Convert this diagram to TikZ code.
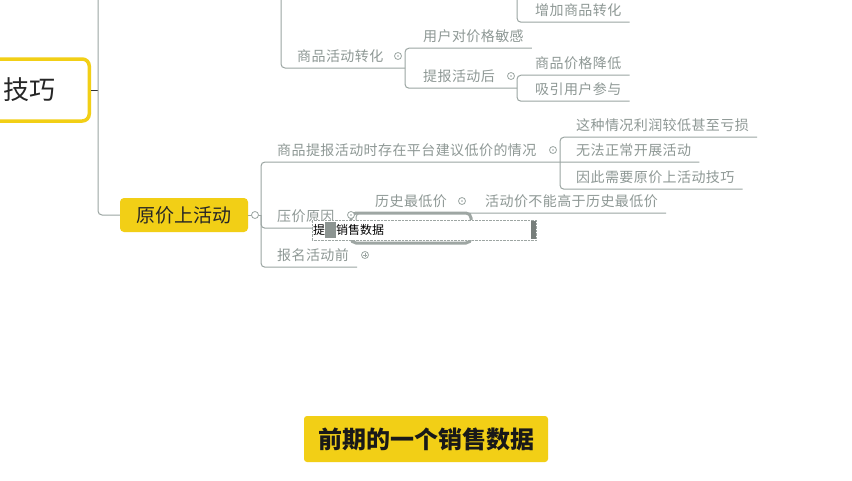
\documentclass[tikz,border=0pt]{standalone}
\usepackage{fontspec}
\setmainfont{Noto Sans CJK SC}
\usepackage{xcolor}
\usetikzlibrary{positioning}

\definecolor{mapline}{HTML}{9BA5A2}
\definecolor{maptext}{HTML}{8E9895}
\definecolor{topicyellow}{HTML}{F2CF16}
\definecolor{editgray}{HTML}{9EA6A3}
\definecolor{cursorgray}{HTML}{8C9491}

\tikzset{
  branch/.style={draw=mapline, line width=1pt, rounded corners=4pt},
  item/.style={anchor=west, inner xsep=8pt, inner ysep=0pt, minimum height=24pt, text=maptext, font=\fontsize{14}{14}\selectfont\addfontfeatures{LetterSpace=3}},
  fold/.style={circle, draw=mapline, fill=white, line width=0.8pt, inner sep=0pt, minimum size=7pt},
  foldopen/.style={fold, path picture={\fill[mapline] (path picture bounding box.center) circle (0.9pt);}},
  foldclosed/.style={fold, path picture={\draw[mapline, line width=0.6pt] ([xshift=-2.2pt]path picture bounding box.center) -- ([xshift=2.2pt]path picture bounding box.center) ([yshift=-2.2pt]path picture bounding box.center) -- ([yshift=2.2pt]path picture bounding box.center);}}
}

\begin{document}
\begin{tikzpicture}[x=1pt, y=-1pt]
        \useasboundingbox[fill=white] (0,0) rectangle (852,480);

        % main topics
        \node[draw=topicyellow, line width=3.5pt, fill=white, rounded corners=7pt, anchor=east, text width=80pt, align=right, inner xsep=34pt, minimum height=62pt, font=\fontsize{26}{26}\selectfont, text=black!85] (jiqiao) at (91,90) {技巧};
        \node[fill=topicyellow, rounded corners=4pt, minimum width=128pt, minimum height=34pt, font=\fontsize{19}{19}\selectfont, text=black!85] (yuanjia) at (184,215) {原价上活动};

        % subtopics
        \node[item] (zengjia) at (527,10) {增加商品转化};
        \node[item] (mingan) at (415,36) {用户对价格敏感};
        \node[item] (zhuanhua) at (289,56) {商品活动转化};
        \node[item] (tibao) at (415,76) {提报活动后};
        \node[item] (jiangdi) at (527,63) {商品价格降低};
        \node[item] (canyu) at (527,89) {吸引用户参与};
        \node[item] (qingkuang) at (269,150) {商品提报活动时存在平台建议低价的情况};
        \node[item] (kuisun) at (568,125) {这种情况利润较低甚至亏损};
        \node[item] (kaizhan) at (568,150) {无法正常开展活动};
        \node[item] (xuyao) at (568,177) {因此需要原价上活动技巧};
        \node[item] (yuanyin) at (269,216) {压价原因};
        \node[item] (zuidi) at (367,201) {历史最低价};
        \node[item] (gaoyu) at (477,201) {活动价不能高于历史最低价};
        \node[item] (baoming) at (269,255) {报名活动前};

        \coordinate (zhuanhua_fork) at (405,68);
        \coordinate (tibao_fork) at (517,88);
        \coordinate (yuanjia_fork) at (261,215);
        \coordinate (qingkuang_fork) at (560,162);
        \coordinate (yuanyin_fork) at (356,228);

        % branches
        \draw[line width=1pt, black!80] (jiqiao.east) -- (98,90);
        \draw[branch] (98,0) |- (yuanjia.west);
        \draw[branch] (517,0) |- (zengjia.south east);
        \draw[branch] (281,0) |- (zhuanhua_fork);
        \draw[branch] (mingan.south east) -| (zhuanhua_fork) |- (tibao.south east) -- (tibao_fork);
        \draw[branch] (jiangdi.south east) -| (tibao_fork) |- (canyu.south east);
        \draw[branch] (yuanjia.east) -- (yuanjia_fork);
        \draw[branch] (qingkuang_fork) -| (yuanjia_fork) |- (baoming.south east);
        \draw[branch] (yuanjia_fork) |- (yuanyin.south east) -- (yuanyin_fork);
        \draw[branch] (kuisun.south east) -| (qingkuang_fork) |- (xuyao.south east);
        \draw[branch] (qingkuang_fork) -- (kaizhan.south east);
        \draw[branch] (yuanyin_fork) |- (zuidi.south west) -- (gaoyu.south east);

        % node being edited
        \node[draw=editgray, line width=3pt, rounded corners=5pt, minimum width=120pt, minimum height=30pt] (bianji) at (411,228) {};
        \node[draw=editgray, densely dotted, fill=white, anchor=west, minimum width=224pt, minimum height=20pt, inner xsep=1pt, inner ysep=0pt, text width=222pt, font=\fontsize{12}{12}\selectfont] (shuru) at (312,230) {提{\color{cursorgray}\rule[-4pt]{11pt}{16pt}}销售数据};
        \node[fill=cursorgray!85!black, minimum width=5pt, minimum height=18pt, inner sep=0pt, left=0pt of shuru.east] (shuru_end) {};

        % fold markers
        \node[fold] (f_yuanjia) at (255,215) {};
        \node[foldopen] (f_zhuanhua) at (398,56) {};
        \node[foldopen] (f_tibao) at (511,76) {};
        \node[foldopen] (f_qingkuang) at (553,150) {};
        \node[foldopen] (f_yuanyin) at (351,215) {};
        \node[foldopen] (f_zuidi) at (462,201) {};
        \node[foldclosed] (f_baoming) at (365,255) {};

        % caption
        \node[fill=topicyellow, rounded corners=3pt, minimum width=244pt, minimum height=46pt, font=\fontsize{24}{24}\selectfont\bfseries, text=black!90] (zimu) at (426,439) {前期的一个销售数据};
\end{tikzpicture}
\end{document}
